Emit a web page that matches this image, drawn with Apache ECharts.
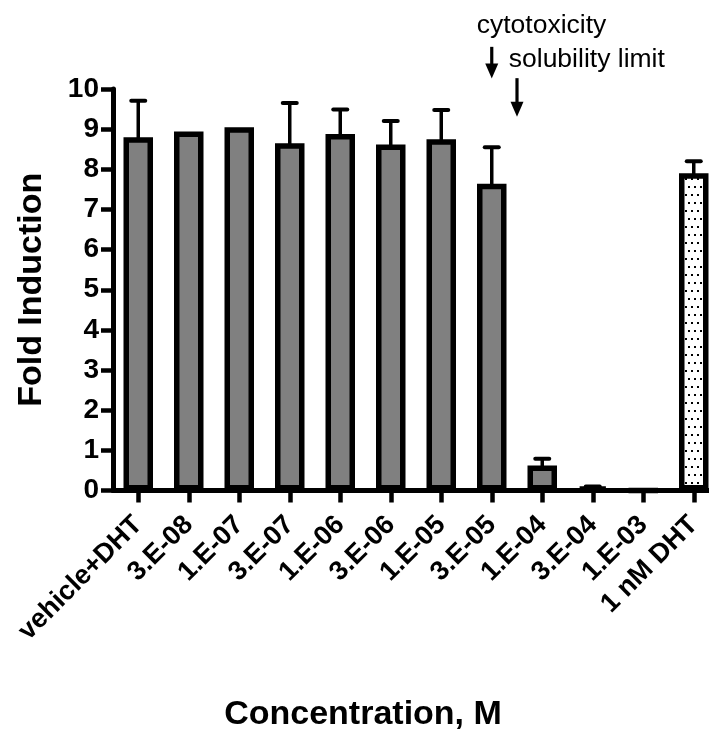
<!DOCTYPE html>
<html>
<head>
<meta charset="utf-8">
<script src="https://cdn.jsdelivr.net/npm/echarts@6/dist/echarts.min.js"></script>
<style>
html,body{margin:0;padding:0;background:#fff;}
#c{width:709px;height:734px;}
</style>
</head>
<body>
<div id="c"></div>
<script>
// ---- data ----
const categories = ['vehicle+DHT','3.E-08','1.E-07','3.E-07','1.E-06','3.E-06','1.E-05','3.E-05','1.E-04','3.E-04','1.E-03','1 nM DHT'];
const foldInduction = [8.80, 8.94, 9.05, 8.65, 8.88, 8.62, 8.75, 7.64, 0.62, 0.08, 0, 7.90];
const errorUpper   = [0.91, 0,    0,    1.00, 0.61, 0.58, 0.73, 0.91, 0.17, 0.02, 0, 0.30];
const yTickValues = [0,1,2,3,4,5,6,7,8,9,10];
const xTitle = 'Concentration, M';
const yTitle = 'Fold Induction';
const annotationTexts = ['cytotoxicity', 'solubility limit'];

// ---- chart ----
const FONT = '"Liberation Sans", Arial, Helvetica, sans-serif';
const chart = echarts.init(document.getElementById('c'), null, {renderer:'canvas'});

const pc = document.createElement('canvas');
pc.width = 6; pc.height = 16;
const g = pc.getContext('2d');
g.fillStyle = '#fff'; g.fillRect(0,0,6,16);
g.fillStyle = '#000'; g.fillRect(1,2,2,2); g.fillRect(4,10,2,2);

const lastIdx = categories.length - 1;

const option = {
  animation: false,
  backgroundColor: '#fff',
  grid: {left:113, right:-10, top:89, bottom:243.5, containLabel:false, outerBoundsMode:'none'},
  xAxis: {
    type:'category', data:categories, boundaryGap:true,
    axisLine:{show:true, lineStyle:{color:'#000', width:5}},
    axisTick:{show:true, alignWithLabel:true, length:12, lineStyle:{color:'#000', width:4.5}},
    axisLabel:{interval:0, rotate:45, margin:30, fontSize:27, fontWeight:'bold', color:'#000', fontFamily:FONT},
    splitLine:{show:false}
  },
  yAxis: {
    type:'value', min:yTickValues[0], max:yTickValues[yTickValues.length-1], interval:yTickValues[1]-yTickValues[0],
    name:yTitle, nameLocation:'middle', nameGap:64, nameRotate:90,
    nameTextStyle:{fontSize:34, fontWeight:'bold', color:'#000', fontFamily:FONT},
    axisLine:{show:true, lineStyle:{color:'#000', width:5}},
    axisTick:{show:true, length:12, lineStyle:{color:'#000', width:4.5}},
    axisLabel:{margin:14, fontSize:28, fontWeight:'bold', color:'#000', fontFamily:FONT},
    splitLine:{show:false}
  },
  series: [
    {
      type:'bar',
      data: foldInduction.map((v,i) => i === lastIdx ? {value:v, itemStyle:{color:{image:pc, repeat:'repeat'}}} : v),
      barWidth:29.5,
      itemStyle:{color:'#808080', borderColor:'#000', borderWidth:5.5},
      z:2
    },
    {
      type:'custom',
      data: foldInduction.map((v,i) => [i, v, errorUpper[i]]),
      encode:{x:0, y:1},
      z:3,
      renderItem: function(params, api){
        const i = api.value(0), v = api.value(1), e = api.value(2);
        if (!e) return null;
        const b = api.coord([i, v]);
        const t = api.coord([i, v + e]);
        return {type:'group', children:[
          {type:'line', shape:{x1:b[0], y1:b[1]+2, x2:t[0], y2:t[1]}, style:{stroke:'#000', lineWidth:3.5}},
          {type:'line', shape:{x1:t[0]-7, y1:t[1], x2:t[0]+7, y2:t[1]}, style:{stroke:'#000', lineWidth:4, lineCap:'round'}}
        ]};
      }
    }
  ]
};
chart.setOption(option);

// annotations positioned through the grid's own coordinate system
const px = (ci, v) => chart.convertToPixel({gridIndex:0}, [ci, v]);
const a1Top = px(7, 11.05), a1Tip = px(7, 10.26);
const mid = (px(7, 10.27)[0] + px(8, 10.27)[0]) / 2;
const a2Top = [mid, px(7, 10.27)[1]], a2Tip = [mid, px(7, 9.31)[1]];
const yCyto = px(7, 11.58)[1];
const ySol = px(7, 10.72)[1];

function arrow(top, tip){
  return [
    {type:'line', shape:{x1:top[0], y1:top[1], x2:tip[0], y2:tip[1]-10}, style:{stroke:'#000', lineWidth:3.2}, silent:true},
    {type:'polygon', shape:{points:[[tip[0], tip[1]], [tip[0]-6.5, tip[1]-15], [tip[0]+6.5, tip[1]-15]]}, style:{fill:'#000'}, silent:true}
  ];
}

chart.setOption({
  graphic: [
    {type:'text', x:363, y:715, style:{text:xTitle, fill:'#000', font:'bold 34px ' + FONT, textAlign:'center', textVerticalAlign:'middle'}, silent:true},
    ...arrow(a1Top, a1Tip),
    ...arrow(a2Top, a2Tip),
    {type:'text', x:a1Top[0]-15, y:yCyto, style:{text:annotationTexts[0], fill:'#000', font:'26.5px ' + FONT, textAlign:'left', textVerticalAlign:'middle'}, silent:true},
    {type:'text', x:a1Top[0]+17, y:ySol, style:{text:annotationTexts[1], fill:'#000', font:'26.5px ' + FONT, textAlign:'left', textVerticalAlign:'middle'}, silent:true}
  ]
});
</script>
</body>
</html>
